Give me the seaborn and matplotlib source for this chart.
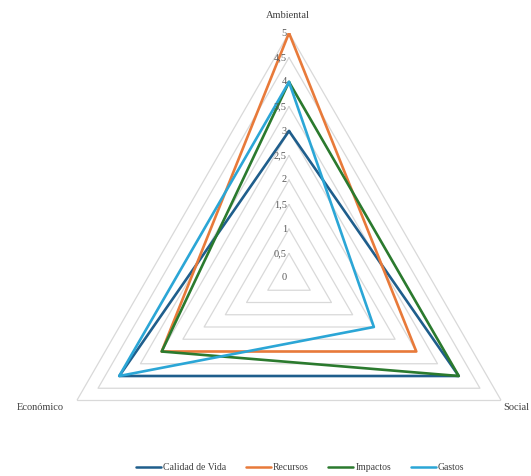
import numpy as np
import pandas as pd
import seaborn as sns
import matplotlib.pyplot as plt
from matplotlib.lines import Line2D

# axes in clockwise order starting at the top
ejes = ['Ambiental', 'Social', 'Económico']
series = ['Calidad de Vida', 'Recursos', 'Impactos', 'Gastos']
calidad_de_vida = [3, 4, 4]
recursos = [5, 3, 3]
impactos = [4, 4, 3]
gastos = [4, 2, 4]
niveles = [0, 0.5, 1, 1.5, 2, 2.5, 3, 3.5, 4, 4.5, 5]
etiquetas_niveles = ['0', '0,5', '1', '1,5', '2', '2,5', '3', '3,5', '4', '4,5', '5']

colores = ['#1F5E8C', '#E87A3A', '#2B7A2E', '#2BA6D6']

sns.set_style('white')
plt.rcParams['font.family'] = ['Liberation Serif', 'DejaVu Serif']

angulos = np.linspace(0, 2 * np.pi, len(ejes), endpoint=False)
ang_cerrado = np.append(angulos, angulos[0])

rows = []
for nombre, vals in zip(series, [calidad_de_vida, recursos, impactos, gastos]):
    vc = vals + vals[:1]
    for i, (a, v) in enumerate(zip(ang_cerrado, vc)):
        rows.append({'serie': nombre, 'angulo': a, 'valor': v, 'orden': i})
df = pd.DataFrame(rows)

fig = plt.figure(figsize=(5.31, 4.76), dpi=100)
# center at (289, 278) px, radius 245 px for value 5
ax = fig.add_axes([44 / 531, (476 - 523) / 476, 490 / 531, 490 / 476], projection='polar')
ax.set_theta_offset(np.pi / 2)
ax.set_theta_direction(-1)
ax.set_ylim(0, 5)
ax.grid(False)
ax.spines['polar'].set_visible(False)
ax.set_xticks([])
ax.set_yticks([])
ax.patch.set_alpha(0)

# triangular gridlines
for n in niveles[1:]:
    ax.plot(ang_cerrado, [n] * len(ang_cerrado), color='#D9D9D9', lw=0.9, zorder=1)

sns.lineplot(data=df, x='angulo', y='valor', hue='serie', hue_order=series,
             palette=colores, sort=False, estimator=None, units='serie',
             lw=1.9, ax=ax, legend=False, zorder=3)
ax.set_xlabel('')
ax.set_ylabel('')
ax.set_ylim(0, 5)

# radial labels
for n, t in zip(niveles, etiquetas_niveles):
    ax.annotate(t, xy=(0, n), xytext=(-1.5, 0), textcoords='offset points',
                ha='right', va='center', fontsize=7.5, color='#595959', zorder=4)

# category labels
fig.text(288 / 531, 1 - 16 / 476, 'Ambiental', ha='center', va='center', fontsize=7.5, color='#404040')
fig.text(503 / 531, 1 - 408 / 476, 'Social', ha='left', va='center', fontsize=7.5, color='#404040')
fig.text(40 / 531, 1 - 408 / 476, 'Económico', ha='center', va='center', fontsize=7.5, color='#404040')

handles = [Line2D([0], [0], color=c, lw=1.8) for c in colores]
fig.legend(handles, series, loc='center', bbox_to_anchor=(300 / 531, 1 - 468 / 476),
           ncol=4, frameon=False, fontsize=7, handlelength=2.6, handletextpad=0.2,
           columnspacing=2.0, labelcolor='#404040')

fig.savefig('out.png', dpi=100)
